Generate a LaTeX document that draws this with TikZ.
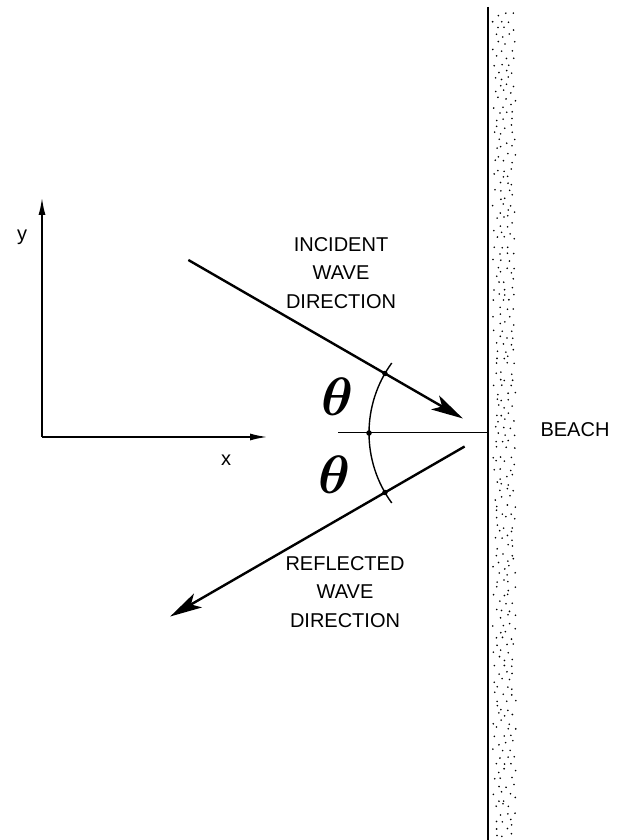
\documentclass[tikz,border=0pt]{standalone}
\usepackage{amsmath}
\usepackage{fontspec}
\setmainfont{Liberation Sans}
\usepackage{tikz}
\usetikzlibrary{arrows.meta,calc}

\begin{document}
\begin{tikzpicture}[x=1pt, y=1pt,
  every node/.style={font=\fontsize{20}{28.5}\selectfont},
  axis/.style={line width=2pt, -{Latex[length=18pt,width=7pt]}},
  ray/.style={line width=2.4pt, -{Stealth[length=32pt,width=16pt,inset=8pt]}},
  arcdot/.style={circle, fill, inner sep=0pt, minimum size=5.5pt},
  thlab/.style={font=\fontsize{20.74}{22}\selectfont\boldmath, scale=2.6}]
\useasboundingbox (0,0) rectangle (618,840);
\def\rad{119}
% axes
\coordinate (O) at (42,403);
\coordinate (xtip) at (268,403);
\coordinate (ytip) at (42,643);
\draw[axis] (O) -- (xtip);
\draw[axis] (O) -- (ytip);
\node (ylab) at (22,603) {y};
\node (xlab) at (226,380) {x};
% beach
\coordinate (hit) at (488,407);
\coordinate (btop) at (488,833);
\coordinate (bbot) at (488,0);
\pgfmathsetseed{17}
\foreach \r in {0,...,117} {
  \foreach \c in {0,1,2} {
    \pgfmathsetmacro{\dx}{495+7.5*\c+3.5*mod(\r,2)+2.4*rand}
    \pgfmathsetmacro{\dy}{6+7*\r+2.4*rand}
    \fill (\dx,\dy) circle (0.9);
  }
}
\draw[line width=2.8pt] (btop) -- (bbot);
\node (beach) at (575,410) {BEACH};
% rays
\coordinate (inS) at ($(hit)+(150:346)$);
\coordinate (inE) at ($(hit)+(150:29)$);
\coordinate (reS) at ($(hit)+(210:27)$);
\coordinate (reE) at ($(hit)+(210:367)$);
\coordinate (nrm) at (338,407);
\draw[ray] (inS) -- (inE);
\draw[ray] (reS) -- (reE);
\draw[line width=1pt] (nrm) -- (hit);
% angle arc
\draw[line width=1.4pt] ($(hit)+(144:\rad)$) arc (144:216:\rad);
\node[arcdot] (d1) at ($(hit)+(150:\rad)$) {};
\node[arcdot] (d2) at ($(hit)+(180:\rad)$) {};
\node[arcdot] (d3) at ($(hit)+(210:\rad)$) {};
\node[thlab] (th1) at (338,443) {$\theta$};
\node[thlab] (th2) at (335,365) {$\theta$};
% labels
\node[align=center] (inc) at (341,567) {INCIDENT\\WAVE\\DIRECTION};
\node[align=center] (ref) at (345,248) {REFLECTED\\WAVE\\DIRECTION};
\end{tikzpicture}
\end{document}
